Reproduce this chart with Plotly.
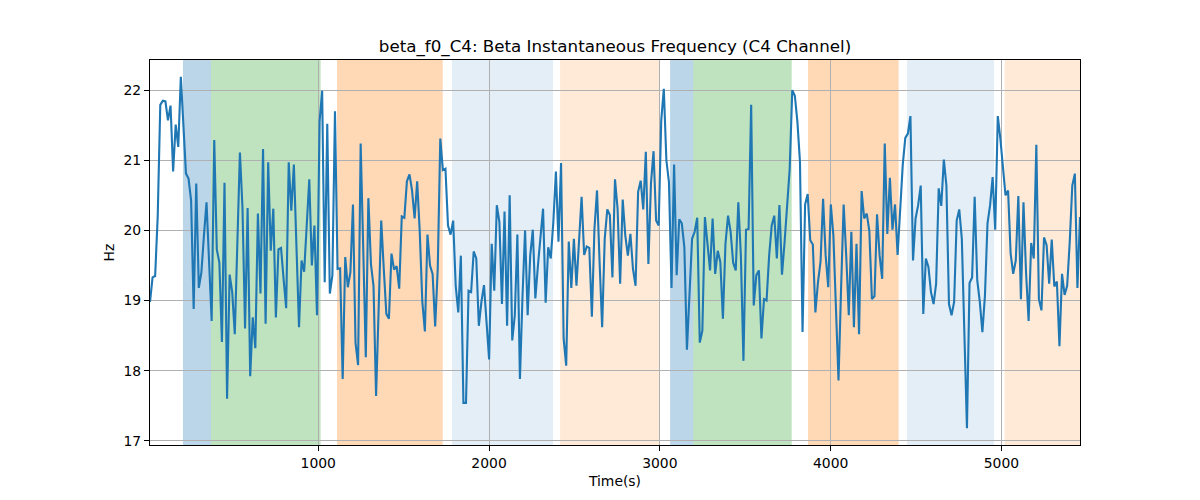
import numpy as np
import plotly.graph_objects as go

freq_hz = [
    # ~15 - 915 s
    18.98, 19.33, 19.35, 20.2, 21.79, 21.85, 21.84, 21.57, 21.78, 20.84, 21.51, 21.19, 22.19, 21.5, 20.81,
    20.74, 20.43, 18.88, 20.67, 19.18, 19.40, 19.93, 20.40, 19.55, 18.71, 21.29, 19.73, 19.54, 18.41, 20.68,
    17.60, 19.37, 19.12, 18.52, 19.83, 21.11, 20.32, 18.60, 20.32, 17.92, 18.76, 18.32, 20.24, 19.10, 21.16,
    18.67, 20.97, 19.71, 20.31, 18.76, 19.73, 19.75, 19.31, 18.89, 20.97, 20.28, 20.94, 19.79, 18.62, 19.57,
    19.41,
    # ~930 - 1820 s
    20.07, 20.73, 19.50, 20.07, 18.79, 21.55, 21.99, 19.26, 21.52, 19.10, 19.36, 21.70, 19.45, 19.46, 17.88,
    19.62, 19.19, 19.40, 20.37, 18.40, 18.08, 21.24, 19.74, 18.19, 20.46, 19.52, 19.21, 17.64, 18.88, 20.14,
    19.45, 18.81, 18.74, 19.67, 19.44, 19.49, 19.17, 20.20, 20.18, 20.70, 20.80, 20.57, 20.17, 20.70, 19.98,
    18.98, 18.56, 19.94, 19.50, 19.38, 18.63, 19.45, 21.31, 20.86, 20.88, 20.07, 19.94, 20.14, 19.21, 18.83,
    # ~1835 - 2705 s
    19.64, 17.54, 17.54, 19.14, 19.12, 19.70, 19.60, 18.64, 18.98, 19.22, 18.69, 18.16, 19.81, 19.14, 20.36,
    20.12, 18.95, 20.27, 18.64, 20.50, 18.43, 18.79, 19.94, 17.88, 19.07, 20.00, 18.79, 19.64, 20.01, 19.03,
    19.50, 19.93, 20.31, 18.97, 19.76, 19.60, 20.12, 20.84, 19.84, 20.96, 18.46, 18.07, 19.84, 19.18, 19.88,
    19.21, 19.83, 20.48, 19.65, 19.77, 19.75, 18.77, 20.02, 20.57, 19.55, 18.62, 19.88, 20.30, 20.22,
    # ~2720 - 3590 s
    19.33, 20.73, 20.31, 19.24, 20.44, 19.93, 19.64, 19.95, 19.45, 19.21, 20.55, 20.71, 20.30, 21.12, 19.52,
    20.67, 21.13, 20.14, 20.07, 21.57, 22.02, 21.00, 20.69, 19.18, 20.94, 19.36, 20.16, 20.10, 19.76, 18.30,
    19.17, 19.88, 19.98, 20.18, 18.40, 18.57, 20.19, 19.79, 19.43, 20.17, 19.38, 19.71, 19.55, 18.74, 19.81,
    20.21, 19.98, 19.54, 19.43, 20.40, 19.64, 18.14, 20.01, 20.02, 21.79, 18.93, 19.36, 19.43, 18.46,
    # ~3605 - 4490 s
    19.02, 19.00, 19.64, 20.07, 20.21, 19.60, 20.36, 19.37, 19.83, 20.40, 20.88, 22.00, 21.92, 21.55, 20.98,
    18.55, 20.37, 20.52, 19.86, 19.80, 18.83, 19.26, 19.55, 20.45, 19.64, 19.19, 20.37, 19.93, 18.93, 17.86,
    19.17, 20.37, 19.64, 18.79, 19.98, 18.62, 19.81, 18.52, 20.56, 20.17, 20.24, 19.99, 19.02, 19.06, 20.23,
    19.64, 19.31, 21.24, 19.95, 20.75, 20.01, 20.37, 19.65, 20.21, 20.93, 21.32, 21.38, 21.63, 19.57, 20.17,
    # ~4505 - 5460 s
    20.36, 20.64, 18.81, 19.60, 19.48, 19.12, 18.95, 19.24, 20.60, 20.35, 21.01, 20.64, 18.95, 18.79, 18.98,
    20.14, 20.30, 19.88, 18.31, 17.18, 19.25, 19.33, 20.48, 19.29, 18.98, 18.55, 19.07, 20.10, 20.36, 20.76,
    20.01, 21.63, 21.31, 20.88, 20.50, 20.57, 19.67, 19.38, 19.57, 20.49, 19.02, 20.40, 19.40, 18.71, 19.82,
    19.60, 21.22, 19.02, 18.86, 19.90, 19.79, 19.24, 19.87, 19.20, 19.27, 18.35, 19.38, 19.08, 19.21, 19.83,
    20.64, 20.81, 19.18, 20.19,
]
T_START = 15
T_END = 5460
time_s = np.linspace(T_START, T_END, len(freq_hz))

# Shaded epochs
span_start = [208, 372, 1110, 1783, 2416, 3060, 3196, 3868, 4447, 5019]
span_end = [372, 1014, 1729, 2375, 2997, 3196, 3772, 4398, 4957, 5470]
span_color = [
    "rgba(31,119,180,0.3)", "rgba(44,160,44,0.3)", "rgba(255,127,14,0.3)",
    "rgba(31,119,180,0.12)", "rgba(255,127,14,0.16)",
    "rgba(31,119,180,0.3)", "rgba(44,160,44,0.3)", "rgba(255,127,14,0.3)",
    "rgba(31,119,180,0.12)", "rgba(255,127,14,0.16)",
]

x_ticks = [1000, 2000, 3000, 4000, 5000]
y_ticks = [17, 18, 19, 20, 21, 22]

fig = go.Figure()
fig.add_trace(go.Scatter(x=time_s, y=freq_hz, mode="lines",
                         line=dict(color="#1f77b4", width=2.1), showlegend=False))

for s, e, c in zip(span_start, span_end, span_color):
    fig.add_shape(type="rect", xref="x", yref="paper", x0=s, x1=e, y0=0, y1=1,
                  fillcolor=c, line=dict(width=0), layer="below")

axis_common = dict(showgrid=True, gridcolor="#b0b0b0", gridwidth=1, showline=True,
                   linecolor="black", linewidth=1, mirror=True, ticks="outside",
                   ticklen=5, tickwidth=1, tickcolor="black", zeroline=False,
                   tickfont=dict(size=13.9))

# page body has an 8px margin, so the figure is 1192x492 to fill the window
fig.update_layout(
    width=1192, height=492,
    margin=dict(l=142, r=120, t=52, b=55),
    plot_bgcolor="white", paper_bgcolor="white",
    font=dict(family="DejaVu Sans", size=13.9, color="black"),
    title=dict(text="beta_f0_C4: Beta Instantaneous Frequency (C4 Channel)",
               x=0.5, xref="paper", xanchor="center", y=1 - 38 / 492, yanchor="middle",
               font=dict(size=16.7)),
    xaxis=dict(range=[T_START, T_END], tickvals=x_ticks,
               title=dict(text="Time(s)", standoff=6, font=dict(size=13.9)), **axis_common),
    yaxis=dict(range=[16.94, 22.43], tickvals=y_ticks,
               title=dict(text="Hz", standoff=5, font=dict(size=13.9)), **axis_common),
)

fig.write_html("out.html")
